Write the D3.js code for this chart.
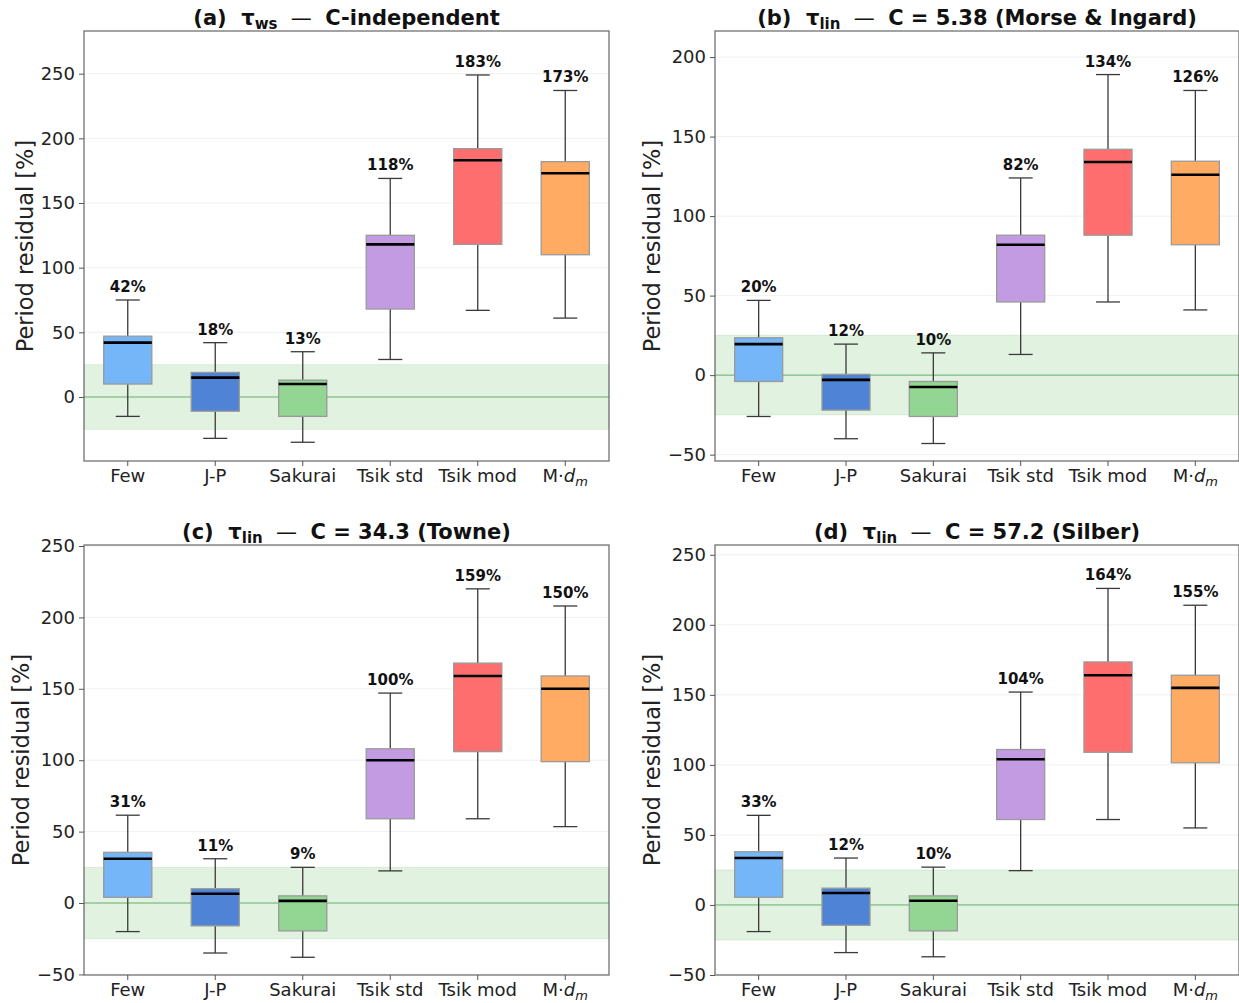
<!DOCTYPE html>
<html>
<head>
<meta charset="utf-8">
<script src="https://cdnjs.cloudflare.com/ajax/libs/d3/7.8.5/d3.min.js"></script>
<style>
  body { margin: 0; background: #fff; }
  text { font-family: "DejaVu Sans", sans-serif; }
</style>
</head>
<body>
<script>

// categories and colours
var methods = ["Few", "J-P", "Sakurai", "Tsik std", "Tsik mod", "M·dm"];
var boxColors = ["#74b6f7", "#4f83d6", "#93d693", "#c39be3", "#ff6e6e", "#ffab63"];
var yTicks = [-50, 0, 50, 100, 150, 200, 250];

// (a) tau_ws, C-independent
var lowA = [-15, -32, -35, 29, 67, 61];
var q1A = [10, -11, -15, 68, 118, 110];
var medA = [42, 15, 10, 118, 183, 173];
var q3A = [47, 19, 13, 125, 192, 182];
var highA = [75, 42, 35, 169, 249, 237];
var pctA = ["42%", "18%", "13%", "118%", "183%", "173%"];

// (b) tau_lin, C = 5.38
var lowB = [-26, -40, -43, 13, 46, 41];
var q1B = [-4, -22, -26, 46, 88, 82];
var medB = [19.5, -3, -7.5, 82, 134, 126];
var q3B = [23.5, 0.5, -4, 88, 142, 134.5];
var highB = [47, 19.5, 14, 124, 189, 179];
var pctB = ["20%", "12%", "10%", "82%", "134%", "126%"];

// (c) tau_lin, C = 34.3
var lowC = [-20, -35, -38, 22.5, 59, 53.5];
var q1C = [4, -16, -19.5, 59, 106, 99];
var medC = [31, 6.5, 1.5, 100, 159, 150];
var q3C = [35.5, 10, 5, 108, 168, 159];
var highC = [61.5, 31, 25, 147, 220, 208];
var pctC = ["31%", "11%", "9%", "100%", "159%", "150%"];

// (d) tau_lin, C = 57.2
var lowD = [-19, -34, -37, 24.5, 61, 55];
var q1D = [5.5, -14.5, -18.5, 61, 109, 101.5];
var medD = [33.5, 8.5, 3, 104, 164, 155];
var q3D = [38, 12, 6.5, 111, 173.5, 164];
var highD = [64, 33.5, 27, 152, 226, 214];
var pctD = ["33%", "12%", "10%", "104%", "164%", "155%"];

var svg = d3.select("body")
    .append("svg")
    .attr("width", 1239)
    .attr("height", 1003);

var panels = [
    {tag: "(a)", sub: "ws", rest: "C-independent", x: 84, y: 31, w: 525, h: 430, dom: [-49.5, 283], yl: -51,
     low: lowA, q1: q1A, med: medA, q3: q3A, high: highA, pct: pctA},
    {tag: "(b)", sub: "lin", rest: "C = 5.38 (Morse & Ingard)", x: 715, y: 31, w: 524, h: 430, dom: [-54, 216.4], yl: -55,
     low: lowB, q1: q1B, med: medB, q3: q3B, high: highB, pct: pctB},
    {tag: "(c)", sub: "lin", rest: "C = 34.3 (Towne)", x: 84, y: 545, w: 525, h: 430, dom: [-50.4, 250.7], yl: -55,
     low: lowC, q1: q1C, med: medC, q3: q3C, high: highC, pct: pctC},
    {tag: "(d)", sub: "lin", rest: "C = 57.2 (Silber)", x: 715, y: 545, w: 524, h: 430, dom: [-50, 257], yl: -55,
     low: lowD, q1: q1D, med: medD, q3: q3D, high: highD, pct: pctD}
];

panels.forEach(drawPanel);

function drawPanel(p) {
    var g = svg.append("g").attr("transform", "translate(" + p.x + "," + p.y + ")");

    var x = d3.scaleBand().domain(methods).range([0, p.w]).paddingInner(0).paddingOuter(0);
    var y = d3.scaleLinear().domain(p.dom).range([p.h, 0]);
    var ticks = yTicks.filter(function(t){ return t >= p.dom[0] && t <= p.dom[1]; });
    var bw = x.bandwidth() * 0.55;
    var cx = function(i){ return x(methods[i]) + x.bandwidth() / 2; };

    // grid
    g.selectAll(".grid")
        .data(ticks)
        .enter()
        .append("line")
        .attr("x1", 0).attr("x2", p.w)
        .attr("y1", function(d){ return y(d); })
        .attr("y2", function(d){ return y(d); })
        .attr("stroke", "#ececec")
        .attr("stroke-width", 0.8);

    // +/-25 % band and zero line
    g.append("rect")
        .attr("x", 0).attr("width", p.w)
        .attr("y", y(25)).attr("height", y(-25) - y(25))
        .attr("fill", "#2ca02c").attr("fill-opacity", 0.14)
        .attr("stroke", "#2ca02c").attr("stroke-opacity", 0.12);
    g.append("line")
        .attr("x1", 0).attr("x2", p.w)
        .attr("y1", y(0)).attr("y2", y(0))
        .attr("stroke", "#6fb56f").attr("stroke-width", 1);

    var idx = d3.range(methods.length);

    // whiskers
    var wh = g.selectAll(".whisk").data(idx).enter().append("g");
    wh.append("line")
        .attr("x1", cx).attr("x2", cx)
        .attr("y1", function(i){ return y(p.q3[i]); })
        .attr("y2", function(i){ return y(p.high[i]); });
    wh.append("line")
        .attr("x1", cx).attr("x2", cx)
        .attr("y1", function(i){ return y(p.q1[i]); })
        .attr("y2", function(i){ return y(p.low[i]); });
    wh.append("line")
        .attr("x1", function(i){ return cx(i) - bw / 4; })
        .attr("x2", function(i){ return cx(i) + bw / 4; })
        .attr("y1", function(i){ return y(p.high[i]); })
        .attr("y2", function(i){ return y(p.high[i]); });
    wh.append("line")
        .attr("x1", function(i){ return cx(i) - bw / 4; })
        .attr("x2", function(i){ return cx(i) + bw / 4; })
        .attr("y1", function(i){ return y(p.low[i]); })
        .attr("y2", function(i){ return y(p.low[i]); });
    wh.selectAll("line").attr("stroke", "#3a3a3a").attr("stroke-width", 1.3);

    // boxes
    g.selectAll(".box")
        .data(idx)
        .enter()
        .append("rect")
        .attr("x", function(i){ return cx(i) - bw / 2; })
        .attr("width", bw)
        .attr("y", function(i){ return y(p.q3[i]); })
        .attr("height", function(i){ return y(p.q1[i]) - y(p.q3[i]); })
        .attr("fill", function(i){ return boxColors[i]; })
        .attr("stroke", "#9a9a9a")
        .attr("stroke-width", 1.3);

    // medians
    g.selectAll(".med")
        .data(idx)
        .enter()
        .append("line")
        .attr("x1", function(i){ return cx(i) - bw / 2; })
        .attr("x2", function(i){ return cx(i) + bw / 2; })
        .attr("y1", function(i){ return y(p.med[i]); })
        .attr("y2", function(i){ return y(p.med[i]); })
        .attr("stroke", "#000")
        .attr("stroke-width", 2.6);

    // percentage labels
    g.selectAll(".pct")
        .data(idx)
        .enter()
        .append("text")
        .attr("x", cx)
        .attr("y", function(i){ return y(p.high[i]) - 8; })
        .attr("text-anchor", "middle")
        .attr("font-size", "15px")
        .attr("font-weight", "bold")
        .attr("fill", "#111")
        .text(function(i){ return p.pct[i]; });

    // frame
    g.append("rect")
        .attr("width", p.w).attr("height", p.h)
        .attr("fill", "none")
        .attr("stroke", "#666")
        .attr("stroke-width", 1.2);

    // y axis
    var ya = g.append("g")
        .call(d3.axisLeft(y).tickValues(ticks).tickSize(5).tickPadding(4)
              .tickFormat(function(d){ return d < 0 ? "\u2212" + Math.abs(d) : d; }));
    ya.select(".domain").remove();
    ya.selectAll("line").attr("stroke", "#555");
    ya.selectAll("text").attr("font-size", "18px").attr("fill", "#222")
        .style("font-family", "DejaVu Sans");

    // x axis
    var xa = g.append("g")
        .attr("transform", "translate(0," + p.h + ")")
        .call(d3.axisBottom(x).tickSize(5).tickPadding(4).tickFormat(""));
    xa.select(".domain").remove();
    xa.selectAll("line").attr("stroke", "#555");
    xa.selectAll(".tick")
        .append("text")
        .attr("y", 21)
        .attr("text-anchor", "middle")
        .attr("font-size", "18px")
        .attr("fill", "#222")
        .each(function(d){
            var t = d3.select(this);
            if (d === "M·dm") {
                t.append("tspan").text("M·");
                t.append("tspan").attr("font-style", "italic").text("d");
                t.append("tspan").attr("font-style", "italic").attr("font-size", "13px").attr("dy", 4).text("m");
            } else {
                t.text(d);
            }
        });

    // y label
    g.append("text")
        .attr("transform", "translate(" + p.yl + "," + (p.h / 2) + ") rotate(-90)")
        .attr("text-anchor", "middle")
        .attr("font-size", "22.5px")
        .attr("fill", "#222")
        .text("Period residual [%]");

    // title
    var tt = g.append("text")
        .attr("x", p.w / 2)
        .attr("y", -6)
        .attr("text-anchor", "middle")
        .attr("font-size", "21px")
        .attr("font-weight", "bold")
        .attr("fill", "#111")
        .style("white-space", "pre");
    tt.append("tspan").text(p.tag + "  \u03c4");
    tt.append("tspan").attr("font-size", "15px").attr("dy", 4).text(p.sub);
    tt.append("tspan").attr("dy", -4).attr("font-weight", "normal").text("  \u2014  ");
    tt.append("tspan").text(p.rest);
}

</script>
</body>
</html>
